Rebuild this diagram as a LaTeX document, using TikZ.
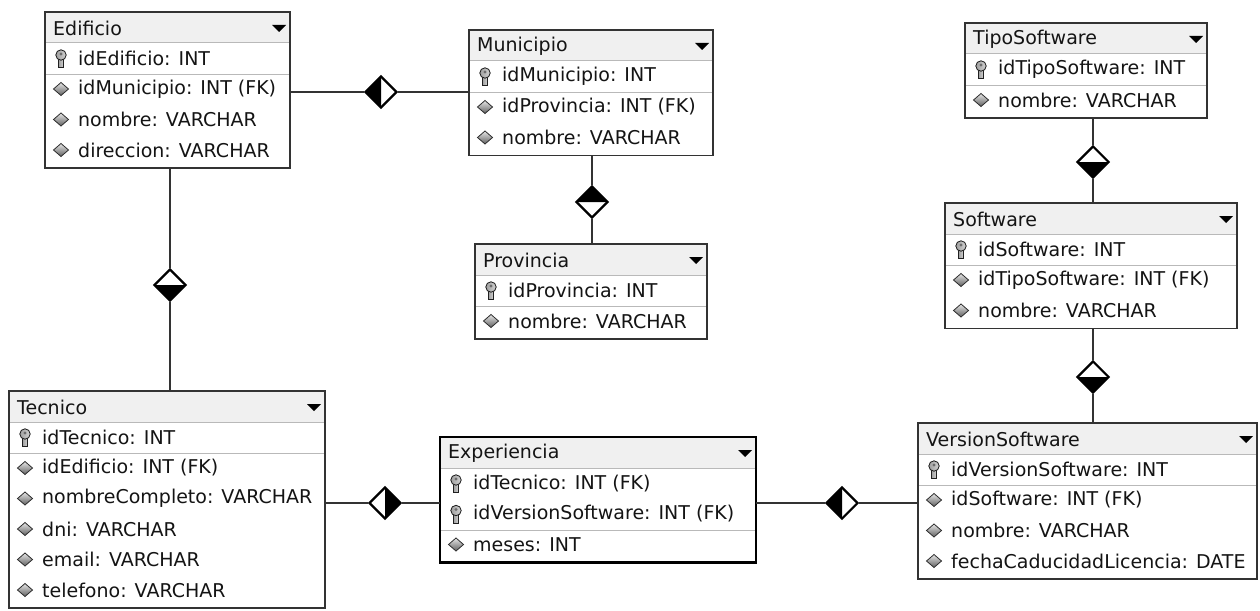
\documentclass[tikz,border=0pt]{standalone}
\usepackage{fontspec}
\setmainfont{DejaVu Sans}
\usetikzlibrary{shapes.geometric}
\tikzset{
 tblbox/.style={draw=gray!40!black, line width=1.6pt, rectangle, inner sep=0pt, outer sep=0pt},
 headfill/.style={fill=gray!12},
 sepline/.style={draw=gray!55, line width=1pt},
 lbl/.style={anchor=west, inner sep=0pt, font=\fontsize{19}{22}\selectfont, text=black!92},
 conn/.style={draw=black!80, line width=1.5pt},
 rel/.style={diamond, draw=black, line width=2.2pt, minimum width=32pt, minimum height=32pt, inner sep=0pt, fill=white},
 reldl/.style={rel, path picture={\fill[black] (path picture bounding box.west) -- (path picture bounding box.north) -- (path picture bounding box.south) -- cycle;}},
 reldr/.style={rel, path picture={\fill[black] (path picture bounding box.east) -- (path picture bounding box.north) -- (path picture bounding box.south) -- cycle;}},
 reldt/.style={rel, path picture={\fill[black] (path picture bounding box.north) -- (path picture bounding box.west) -- (path picture bounding box.east) -- cycle;}},
 reldb/.style={rel, path picture={\fill[black] (path picture bounding box.south) -- (path picture bounding box.west) -- (path picture bounding box.east) -- cycle;}},
 keyfill/.style={left color=gray!75, right color=gray!35, draw=gray!25!black, line width=0.8pt},
 attrfill/.style={top color=gray!20, bottom color=gray!75!black, draw=gray!35!black, line width=0.8pt},
}
\newcommand{\keyi}[2]{%
 \filldraw[keyfill] ({#1-2.6},{#2-1}) rectangle ({#1+2.6},{#2+9});
 \filldraw[keyfill] ({#1},{#2-3.5}) circle (5.2pt);
 \fill[gray!85!black] ({#1},{#2-4.5}) circle (1.6pt);
}
\newcommand{\attri}[2]{%
 \path[attrfill] ({#1-7.5},{#2}) -- ({#1},{#2-6.5}) -- ({#1+7.5},{#2}) -- ({#1},{#2+6.5}) -- cycle;
}
\newcommand{\erdtable}[8]{%
 \pgfmathsetmacro\tyb{#3+31+#5*30.5+3}%
 \pgfmathsetmacro\txc{(#2+#4)/2}%
 \pgfmathsetmacro\tyc{(#3+\tyb)/2}%
 \pgfmathsetmacro\tww{#4-#2}%
 \pgfmathsetmacro\thh{\tyb-#3}%
 \fill[headfill] (#2,#3) rectangle (#4,{#3+31});
 \draw[sepline] (#2,{#3+31}) -- (#4,{#3+31});
 \draw[sepline] (#2,{#3+31+#6*30.5+1}) -- (#4,{#3+31+#6*30.5+1});
 \node[lbl] (#1-title) at ({#2+8},{#3+16}) {#7};
 \fill[black] ({#4-18},{#3+13}) -- ({#4-4},{#3+13}) -- ({#4-11},{#3+20}) -- cycle;
 \foreach \rk/\rt [count=\ri from 0] in {#8} {
   \pgfmathsetmacro\ry{#3+31+15.5+\ri*30.5}
   \rk{#2+16}{\ry}
   \node[lbl] (#1-r\ri) at ({#2+33},\ry) {\rt};
 }
 \node[tblbox, minimum width=\tww, minimum height=\thh] (#1) at (\txc,\tyc) {};
}
\begin{document}
\begin{tikzpicture}[x=1pt,y=-1pt]
\useasboundingbox[fill=white] (0,0) rectangle (1260,610);

\erdtable{edificio}{45}{12}{290}{4}{1}{Edificio}{\keyi/idEdificio: INT,\attri/idMunicipio: INT (FK),\attri/nombre: VARCHAR,\attri/direccion: VARCHAR}
\erdtable{municipio}{469}{30}{713}{3}{1}{Municipio}{\keyi/idMunicipio: INT,\attri/idProvincia: INT (FK),\attri/nombre: VARCHAR}
\erdtable{provincia}{475}{244}{707}{2}{1}{Provincia}{\keyi/idProvincia: INT,\attri/nombre: VARCHAR}
\erdtable{tiposoftware}{965}{23}{1207}{2}{1}{TipoSoftware}{\keyi/idTipoSoftware: INT,\attri/nombre: VARCHAR}
\erdtable{software}{945}{203}{1237}{3}{1}{Software}{\keyi/idSoftware: INT,\attri/idTipoSoftware: INT (FK),\attri/nombre: VARCHAR}
\erdtable{versionsoftware}{918}{423}{1257}{4}{1}{VersionSoftware}{\keyi/idVersionSoftware: INT,\attri/idSoftware: INT (FK),\attri/nombre: VARCHAR,\attri/fechaCaducidadLicencia: DATE}
\erdtable{experiencia}{440}{437}{756}{3}{2}{Experiencia}{\keyi/idTecnico: INT (FK),\keyi/idVersionSoftware: INT (FK),\attri/meses: INT}
\erdtable{tecnico}{9}{391}{325}{6}{1}{Tecnico}{\keyi/idTecnico: INT,\attri/idEdificio: INT (FK),\attri/nombreCompleto: VARCHAR,\attri/dni: VARCHAR,\attri/email: VARCHAR,\attri/telefono: VARCHAR}
\draw[black, line width=2.2pt] (experiencia.north west) rectangle (experiencia.south east);

\node[reldl] (d1) at (381,92) {};
\node[reldt] (d2) at (592,202) {};
\node[reldb] (d3) at (170,285) {};
\node[reldb] (d4) at (1093,162) {};
\node[reldb] (d5) at (1093,377) {};
\node[reldr] (d6) at (385,503) {};
\node[reldl] (d7) at (842,503) {};

\draw[conn] (edificio.east |- d1) -- (d1.west);
\draw[conn] (d1.east) -- (municipio.west |- d1);
\draw[conn] (municipio.south -| d2) -- (d2.north);
\draw[conn] (d2.south) -- (provincia.north -| d2);
\draw[conn] (edificio.south -| d3) -- (d3.north);
\draw[conn] (d3.south) -- (tecnico.north -| d3);
\draw[conn] (tiposoftware.south -| d4) -- (d4.north);
\draw[conn] (d4.south) -- (software.north -| d4);
\draw[conn] (software.south -| d5) -- (d5.north);
\draw[conn] (d5.south) -- (versionsoftware.north -| d5);
\draw[conn] (tecnico.east |- d6) -- (d6.west);
\draw[conn] (d6.east) -- (experiencia.west |- d6);
\draw[conn] (experiencia.east |- d7) -- (d7.west);
\draw[conn] (d7.east) -- (versionsoftware.west |- d7);
\end{tikzpicture}
\end{document}
